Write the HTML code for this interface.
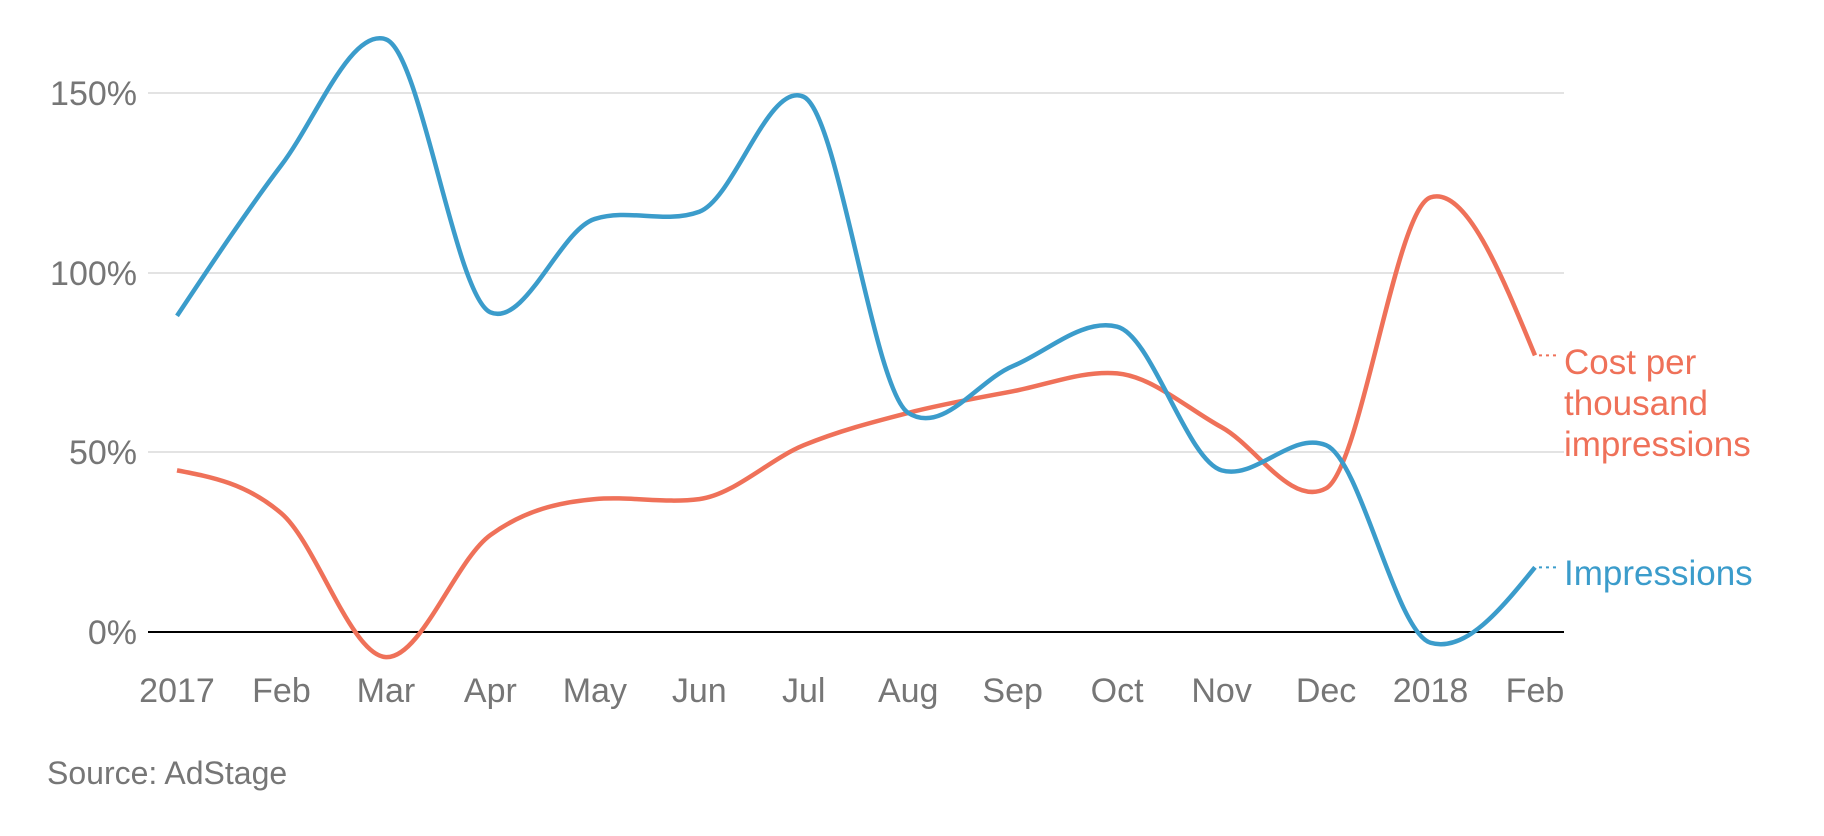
<!DOCTYPE html>
<html><head><meta charset="utf-8"><style>
html,body{margin:0;padding:0;background:#fff;}
svg{display:block;font-family:"Liberation Sans",sans-serif;}
</style></head><body>
<svg id="s" width="1824" height="836" viewBox="0 0 1824 836">
<g stroke="#e3e3e3" stroke-width="2">
<line x1="148" y1="93" x2="1564" y2="93"/>
<line x1="148" y1="273" x2="1564" y2="273"/>
<line x1="148" y1="452" x2="1564" y2="452"/>
</g>
<line x1="148" y1="632" x2="1564" y2="632" stroke="#000" stroke-width="2"/>
<g fill="#767676" font-size="34" text-anchor="end">
<text x="137" y="105">150%</text>
<text x="137" y="285">100%</text>
<text x="137" y="464">50%</text>
<text x="137" y="644">0%</text>
</g>
<g id="xl" fill="#767676" font-size="34" text-anchor="middle"></g>
<text x="47" y="784" fill="#767676" font-size="32">Source: AdStage</text>
<path id="red" fill="none" stroke="#ef7159" stroke-width="4.5"/>
<path id="blue" fill="none" stroke="#3b9ccb" stroke-width="4.5"/>
<g font-size="35" fill="#ef7159">
<text x="1564" y="374">Cost per</text>
<text x="1564" y="415">thousand</text>
<text x="1564" y="456">impressions</text>
</g>
<text x="1564" y="585" fill="#3b9ccb" font-size="35">Impressions</text>
</svg>
<script>
var x0=177,dx=104.46;
function Y(v){return 632-v*3.592;}
var labs=["2017","Feb","Mar","Apr","May","Jun","Jul","Aug","Sep","Oct","Nov","Dec","2018","Feb"];
var g=document.getElementById("xl"),h="";
labs.forEach(function(l,i){h+='<text x="'+(x0+i*dx)+'" y="702">'+l+'</text>';});
g.innerHTML=h;
function sg(v){return v<0?-1:1;}
function path(vals){
 var p=vals.map(function(v,i){return [x0+i*dx,Y(v)];});
 var n=p.length,s=[],m=[];
 for(var i=0;i<n-1;i++)s.push((p[i+1][1]-p[i][1])/dx);
 for(var i=1;i<n-1;i++){
  var a=s[i-1],b=s[i],q=(a+b)/2;
  var mono=(sg(a)+sg(b))*Math.min(Math.abs(a),Math.abs(b),0.5*Math.abs(q))||0;
  m[i]=0.5*mono+0.5*q;
 }
 m[0]=(3*s[0]-m[1])/2; m[n-1]=(3*s[n-2]-m[n-2])/2;
 var d="M"+p[0][0]+","+p[0][1];
 for(var i=0;i<n-1;i++){
  var h3=dx/3;
  d+=" C"+(p[i][0]+h3)+","+(p[i][1]+m[i]*h3)+" "+(p[i+1][0]-h3)+","+(p[i+1][1]-m[i+1]*h3)+" "+p[i+1][0]+","+p[i+1][1];
 }
 return {d:d,end:p[n-1]};
}
var r=path([45,33,-7,27,37,37,52,61,67,72,57,40,121,77]);
var b=path([88,130,165,89,115,117,149,61,74,85,45,52,-3,18]);
document.getElementById("red").setAttribute("d",r.d);
document.getElementById("blue").setAttribute("d",b.d);
var s=document.getElementById("s");
function dots(pt,col){
 var l=document.createElementNS("http://www.w3.org/2000/svg","line");
 l.setAttribute("x1",pt[0]+4);l.setAttribute("y1",pt[1]);l.setAttribute("x2",1558);l.setAttribute("y2",pt[1]);
 l.setAttribute("stroke",col);l.setAttribute("stroke-width","2");l.setAttribute("stroke-dasharray","3,4");
 s.appendChild(l);
}
dots(r.end,"#ef7159");dots(b.end,"#3b9ccb");
</script>
</body></html>
